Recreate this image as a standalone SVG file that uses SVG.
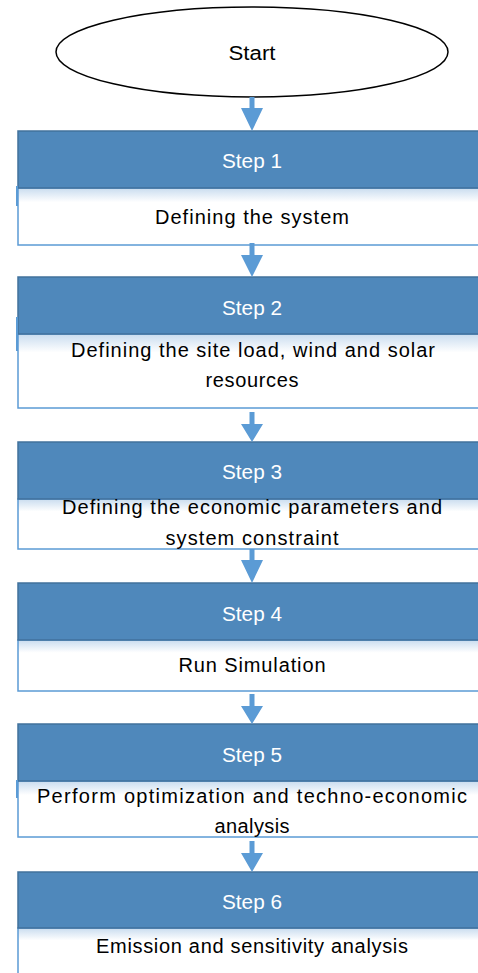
<svg xmlns="http://www.w3.org/2000/svg" width="478" height="973" viewBox="0 0 478 973">
<style>
.hdr{fill:#4F88BB;stroke:#41719C;stroke-width:1.5}
.body{fill:url(#bg);stroke:#5B9BD5;stroke-width:1.5}
.tick{fill:#5B9BD5}
.ht{font-family:"Liberation Sans",Arial,sans-serif;font-size:20px;fill:#ffffff;text-anchor:middle}
.bt{font-family:"Liberation Sans",Arial,sans-serif;font-size:20px;fill:#000000;text-anchor:middle}
.arr{fill:#5B9BD5}
</style>
<defs>
<linearGradient id="bg" x1="0" y1="0" x2="0" y2="1" gradientUnits="objectBoundingBox">
<stop offset="0" stop-color="#C9DCEF"/>
<stop offset="0.25" stop-color="#FFFFFF"/>
<stop offset="1" stop-color="#FFFFFF"/>
</linearGradient>
</defs>
<rect width="478" height="973" fill="#ffffff"/>
<g id="start">
<ellipse cx="252" cy="52" rx="196" ry="45" fill="#ffffff" stroke="#000000" stroke-width="1.5"/>
<text class="bt" x="252" y="60" textLength="47" lengthAdjust="spacingAndGlyphs">Start</text>
</g>
<g id="step1">
<rect class="body" x="18" y="188" width="470" height="57"/>
<rect class="hdr" x="18" y="131" width="470" height="57"/>
<rect class="tick" x="16" y="186" width="2" height="20"/>
<text class="ht" x="252" y="168" textLength="60" lengthAdjust="spacingAndGlyphs">Step 1</text>
<text class="bt" x="252" y="224" textLength="194" lengthAdjust="spacing">Defining the system</text>
</g>
<g id="step2">
<rect class="body" x="18" y="334" width="470" height="74"/>
<rect class="hdr" x="18" y="277" width="470" height="57"/>
<rect class="tick" x="16" y="317" width="2" height="34"/>
<text class="ht" x="252" y="315" textLength="60" lengthAdjust="spacingAndGlyphs">Step 2</text>
<text class="bt" x="253" y="357" textLength="364" lengthAdjust="spacing">Defining the site load, wind and solar</text>
<text class="bt" x="252" y="387" textLength="93" lengthAdjust="spacing">resources</text>
</g>
<g id="step3">
<rect class="body" x="18" y="499" width="470" height="50"/>
<rect class="hdr" x="18" y="442" width="470" height="57"/>
<text class="ht" x="252" y="479" textLength="60" lengthAdjust="spacingAndGlyphs">Step 3</text>
<text class="bt" x="252" y="514" textLength="380" lengthAdjust="spacing">Defining the economic parameters and</text>
<text class="bt" x="252" y="545" textLength="173" lengthAdjust="spacing">system constraint</text>
</g>
<g id="step4">
<rect class="body" x="18" y="640" width="470" height="51"/>
<rect class="hdr" x="18" y="583" width="470" height="57"/>
<text class="ht" x="252" y="621" textLength="60" lengthAdjust="spacingAndGlyphs">Step 4</text>
<text class="bt" x="252" y="672" textLength="147" lengthAdjust="spacing">Run Simulation</text>
</g>
<g id="step5">
<rect class="body" x="18" y="781" width="470" height="56"/>
<rect class="hdr" x="18" y="724" width="470" height="57"/>
<rect class="tick" x="16" y="780" width="2" height="18"/>
<text class="ht" x="252" y="762" textLength="60" lengthAdjust="spacingAndGlyphs">Step 5</text>
<text class="bt" x="252" y="803" textLength="430" lengthAdjust="spacing">Perform optimization and techno-economic</text>
<text class="bt" x="252" y="833" textLength="75" lengthAdjust="spacing">analysis</text>
</g>
<g id="step6">
<rect class="body" x="18" y="928" width="470" height="50"/>
<rect class="hdr" x="18" y="872" width="470" height="56"/>
<text class="ht" x="252" y="909" textLength="60" lengthAdjust="spacingAndGlyphs">Step 6</text>
<text class="bt" x="252" y="953" textLength="312" lengthAdjust="spacing">Emission and sensitivity analysis</text>
</g>
<g id="connectors">
<path class="arr" d="M249.5,97 h5 v11 h8.5 l-11,23 l-11,-23 h8.5 z"/>
<path class="arr" d="M249.5,243 h5 v12 h8.5 l-11,22 l-11,-22 h8.5 z"/>
<path class="arr" d="M249.5,412 h5 v12 h8.5 l-11,18 l-11,-18 h8.5 z"/>
<path class="arr" d="M249.5,549 h5 v11 h8.5 l-11,23 l-11,-23 h8.5 z"/>
<path class="arr" d="M249.5,694 h5 v12 h8.5 l-11,18 l-11,-18 h8.5 z"/>
<path class="arr" d="M249.5,841 h5 v12 h8.5 l-11,19 l-11,-19 h8.5 z"/>
</g>
</svg>
